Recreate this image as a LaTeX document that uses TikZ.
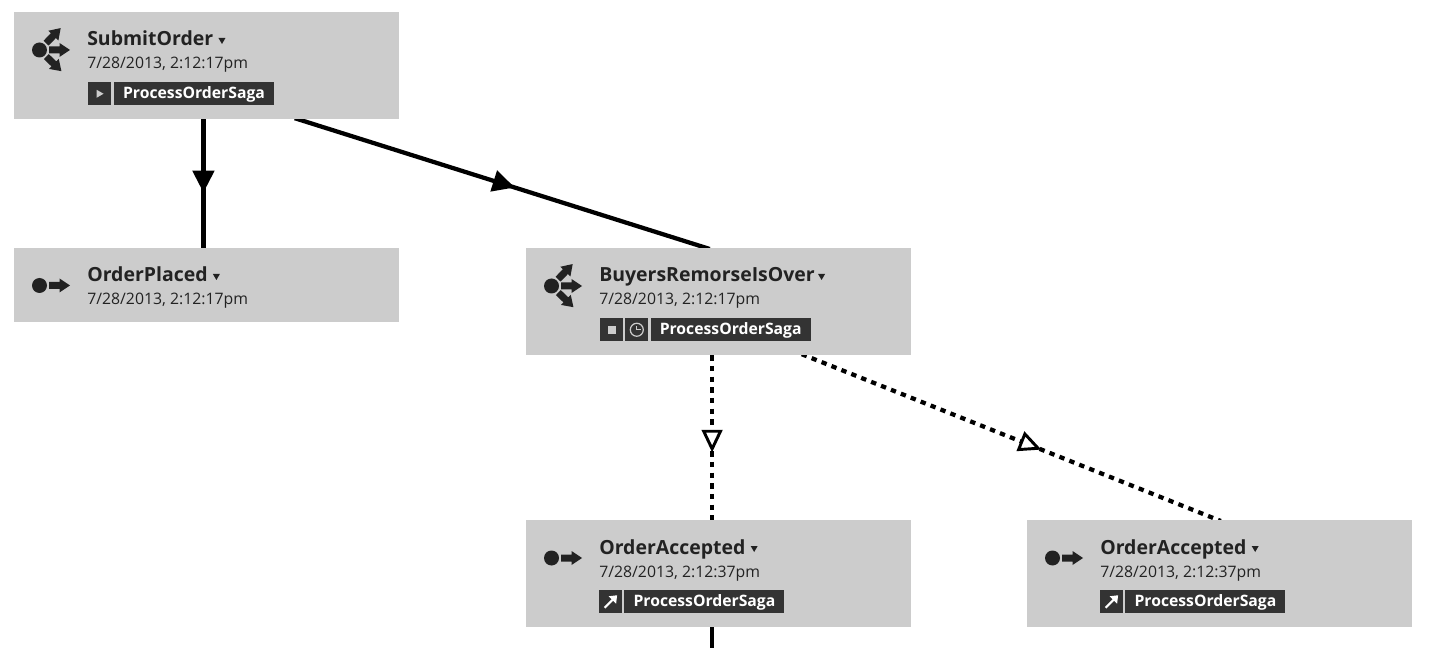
\documentclass[tikz,border=0pt]{standalone}
\usepackage{fontspec}
\setmainfont{Open Sans}
\usetikzlibrary{positioning,arrows.meta,decorations.markings,backgrounds}
\definecolor{boxgray}{HTML}{CCCCCC}
\definecolor{tagdark}{HTML}{333333}
\definecolor{inkdark}{HTML}{222222}
\tikzset{
  msgbox/.style={fill=boxgray,minimum width=288.75pt,minimum height=#1,anchor=north west,inner sep=0pt},
  msgbox/.default=80pt,
  msgtitle/.style={anchor=base west,inner sep=0pt,text=inkdark,font=\fontsize{14.6pt}{16pt}\selectfont\bfseries},
  msgdate/.style={anchor=base west,inner sep=0pt,text=inkdark,font=\fontsize{11.85pt}{14pt}\selectfont},
  tagicon/.style={fill=tagdark,minimum width=17pt,minimum height=17.25pt,inner sep=0pt},
  tagname/.style={fill=tagdark,text=white,minimum width=#1,minimum height=17.25pt,inner sep=0pt,
    text height=9pt,text depth=1.8pt,font=\fontsize{11.8pt}{13pt}\selectfont\bfseries},
  tagname/.default=120pt,
  solidlink/.style={draw=black,line width=3.2pt},
  dottedlink/.style={draw=black,line width=3.2pt,dash pattern=on 4pt off 4pt},
  solidhead/.style={decoration={markings,mark=at position #1 with
    {\arrow[line width=3pt]{Triangle[length=16.5pt,width=16pt]}}},postaction={decorate}},
  openhead/.style={decoration={markings,mark=at position #1 with
    {\arrow[line width=2.2pt]{Triangle[open,fill=white,length=17pt,width=15.5pt]}}},postaction={decorate}},
  shaft/.pic={\fill[inkdark] (9.5,-3.5) -- (20,-3.5) -- (20,-7) -- (30.5,0) -- (20,7) -- (20,3.5) -- (9.5,3.5) -- cycle;},
  sendicon/.pic={\fill[inkdark] (0,0) circle (7.5);
    \pic {shaft};},
  fanicon/.pic={\fill[inkdark] (0,0) circle (7.5);
    \pic {shaft};
    \pic[rotate=46] {shaft};
    \pic[rotate=-44] {shaft};},
  dropmark/.pic={\fill[inkdark] (0,-8) -- (7,-8) -- (3.5,-2) -- cycle;},
  playmark/.pic={\fill[boxgray] (-3,-4) -- (4,0) -- (-3,4) -- cycle;},
  stopmark/.pic={\fill[boxgray] (-4,-4) rectangle (4,4);},
  clockmark/.pic={\draw[boxgray,line width=.9pt] (0,0) circle (6.5);
    \draw[boxgray,line width=.9pt] (0,-4) -- (0,0) -- (4,0);},
  replymark/.pic={\draw[white,line width=1.6pt] (-6,6) -- (4,-4);
    \fill[white] (6.5,-6.5) -- (5.5,2) -- (-2,-5.5) -- cycle;},
}
\begin{document}
\begin{tikzpicture}[x=.75pt,y=-.75pt]
  \useasboundingbox (0,0) rectangle (1435,648);

  % top row
  \node[msgbox] (submit) at (14,12) {};
  \pic at ([shift={(25.5,38)}]submit.north west) {fanicon};
  \node[msgtitle] (submit-title) at ([shift={(73,34)}]submit.north west) {SubmitOrder};
  \pic at ([shift={(5,0)}]submit-title.base east) {dropmark};
  \node[msgdate] (submit-date) at ([shift={(73,57)}]submit.north west) {7/28/2013, 2:12:17pm};
  \node[tagicon,anchor=north west] (submit-play) at ([shift={(74,70)}]submit.north west) {};
  \pic at (submit-play) {playmark};
  \node[tagname,right=1.9pt of submit-play] (submit-saga) {ProcessOrderSaga};

  \node[msgbox=55.5pt] (placed) at (14,248) {};
  \pic at ([shift={(25.5,37.5)}]placed.north west) {sendicon};
  \node[msgtitle] (placed-title) at ([shift={(73,34)}]placed.north west) {OrderPlaced};
  \pic at ([shift={(5,0)}]placed-title.base east) {dropmark};
  \node[msgdate] (placed-date) at ([shift={(73,57)}]placed.north west) {7/28/2013, 2:12:17pm};

  % timeout message
  \node[msgbox] (buyers) at (526,248) {};
  \pic at ([shift={(25.5,38)}]buyers.north west) {fanicon};
  \node[msgtitle] (buyers-title) at ([shift={(73,34)}]buyers.north west) {BuyersRemorseIsOver};
  \pic at ([shift={(3,0)}]buyers-title.base east) {dropmark};
  \node[msgdate] (buyers-date) at ([shift={(73,57)}]buyers.north west) {7/28/2013, 2:12:17pm};
  \node[tagicon,anchor=north west] (buyers-stop) at ([shift={(74,70)}]buyers.north west) {};
  \pic at (buyers-stop) {stopmark};
  \node[tagicon,right=1.5pt of buyers-stop] (buyers-clock) {};
  \pic at (buyers-clock) {clockmark};
  \node[tagname,right=1.5pt of buyers-clock] (buyers-saga) {ProcessOrderSaga};

  % the two replies
  \foreach \nm/\xx in {acceptA/526,acceptB/1027} {
    \node[msgbox] (\nm) at (\xx,520) {};
    \pic at ([shift={(25.5,38)}]\nm.north west) {sendicon};
    \node[msgtitle] (\nm-title) at ([shift={(73,34)}]\nm.north west) {OrderAccepted};
    \pic at ([shift={(5,0)}]\nm-title.base east) {dropmark};
    \node[msgdate] (\nm-date) at ([shift={(73,57)}]\nm.north west) {7/28/2013, 2:12:37pm};
    \node[tagicon,anchor=north west] (\nm-reply) at ([shift={(73,70)}]\nm.north west) {};
    \pic at (\nm-reply) {replymark};
    \node[tagname,right=1.5pt of \nm-reply] (\nm-saga) {ProcessOrderSaga};
  }
  \coordinate (cont) at ([xshift=-5pt]acceptA.south |- 0,648);

  % links go under the boxes
  \begin{scope}[on background layer]
    \draw[solidlink,solidhead=.57] ([xshift=-2.5pt]submit.south) -- ([xshift=-2.5pt]placed.north);
    \draw[solidlink,solidhead=.53] ([shift={(88,-1)}]submit.south) -- ([shift={(-9,1)}]buyers.north);
    \draw[dottedlink,openhead=.59] ([xshift=-5pt]buyers.south) -- ([xshift=-5pt]acceptA.north);
    \draw[dottedlink,openhead=.572] ([shift={(83,-1)}]buyers.south) -- ([shift={(1,1)}]acceptB.north);
    \draw[solidlink] ([xshift=-5pt]acceptA.south) -- (cont);
  \end{scope}
\end{tikzpicture}
\end{document}
